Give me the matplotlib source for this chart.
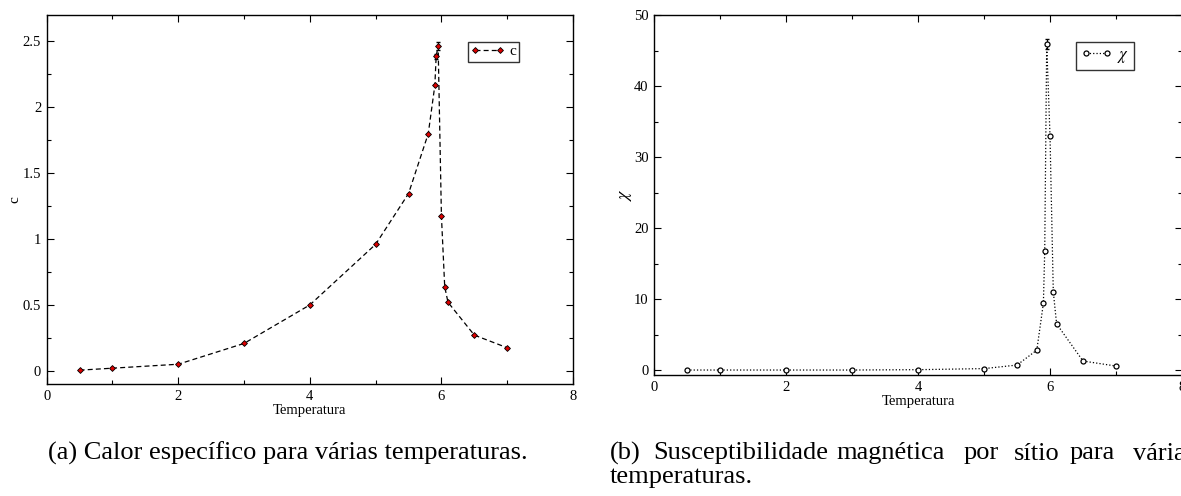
import matplotlib
matplotlib.use("Agg")
import matplotlib.pyplot as plt
from matplotlib.ticker import MultipleLocator

plt.rcParams['font.family'] = ['Liberation Serif', 'DejaVu Serif']
plt.rcParams['mathtext.fontset'] = 'stix'

# Data
temps = [0.5, 1.0, 2.0, 3.0, 4.0, 5.0, 5.5, 5.8, 5.9, 5.92, 5.95, 6.0, 6.05, 6.1, 6.5, 7.0]
c_vals = [0.005, 0.02, 0.05, 0.208, 0.50, 0.96, 1.345, 1.80, 2.166, 2.386, 2.467,
          1.175, 0.638, 0.52, 0.271, 0.175]
c_err = [0, 0, 0, 0, 0, 0, 0, 0, 0, 0.02, 0.03, 0, 0, 0, 0, 0]
chi_vals = [0.0, 0.0, 0.0, 0.0, 0.05, 0.2, 0.7, 2.8, 9.4, 16.8, 45.9,
            33.0, 11.0, 6.5, 1.27, 0.56]
chi_err = [0, 0, 0, 0, 0, 0, 0, 0, 0, 0, 0.7, 0, 0, 0, 0, 0]

xlabel = "Temperatura"
caption_a = "(a) Calor específico para várias temperaturas."
caption_b_words = ["(b)", "Susceptibilidade", "magnética", "por", "sítio", "para", "várias"]
caption_b_line2 = "temperaturas."

W, H = 1181, 496
fig = plt.figure(figsize=(W / 100, H / 100), dpi=100)

def style(ax):
    ax.tick_params(which='both', direction='in', top=True, right=True, labelsize=10.5, pad=4)
    ax.tick_params(which='major', length=5, width=0.8)
    ax.tick_params(which='minor', length=3, width=0.8)
    for s in ax.spines.values():
        s.set_linewidth(1.0)

# Left panel
ax1 = fig.add_axes([46.7 / W, 1 - 384 / H, (573 - 46.7) / W, (384 - 15) / H])
ax1.errorbar(temps, c_vals, yerr=c_err, fmt='none', ecolor='black', capsize=1.5, elinewidth=0.8)
ax1.plot(temps, c_vals, color='black', linestyle='--', linewidth=0.9, dashes=(4, 2.5),
         marker='D', markersize=3.0, markerfacecolor='#dd0000', markeredgecolor='black',
         markeredgewidth=0.6, label='c')
ax1.set_xlim(0, 8)
ax1.set_ylim(-0.1, 2.7)
ax1.xaxis.set_major_locator(MultipleLocator(2))
ax1.xaxis.set_minor_locator(MultipleLocator(1))
ax1.yaxis.set_minor_locator(MultipleLocator(0.25))
ax1.set_yticks([0, 0.5, 1, 1.5, 2, 2.5])
ax1.set_yticklabels(['0', '0.5', '1', '1.5', '2', '2.5'])
ax1.set_xlabel(xlabel, fontsize=10.5, labelpad=1)
ax1.set_ylabel('c', fontsize=11, labelpad=1)
style(ax1)
leg1 = ax1.legend(loc='upper left', bbox_to_anchor=(467.7 / W, 1 - 41.7 / H),
                  bbox_transform=fig.transFigure, numpoints=2, handlelength=2.2,
                  handletextpad=0.3, borderpad=0.2, fontsize=11, fancybox=False,
                  borderaxespad=0)
leg1.get_frame().set_edgecolor('black')
leg1.get_frame().set_linewidth(1.0)

# Right panel
ax2 = fig.add_axes([654 / W, 1 - 375 / H, (1182 - 654) / W, (375 - 15) / H])
ax2.errorbar(temps, chi_vals, yerr=chi_err, fmt='none', ecolor='black', capsize=1.5, elinewidth=0.8)
ax2.plot(temps, chi_vals, color='black', linestyle=':', linewidth=0.9,
         marker='o', markersize=3.6, markerfacecolor='white', markeredgecolor='black',
         markeredgewidth=0.9, label=r'$\chi$')
ax2.set_xlim(0, 8)
ax2.set_ylim(-0.7, 50)
ax2.xaxis.set_major_locator(MultipleLocator(2))
ax2.xaxis.set_minor_locator(MultipleLocator(1))
ax2.yaxis.set_major_locator(MultipleLocator(10))
ax2.yaxis.set_minor_locator(MultipleLocator(5))
ax2.set_xlabel(xlabel, fontsize=10.5, labelpad=1)
ax2.set_ylabel(r'$\chi$', fontsize=13, labelpad=0)
style(ax2)
leg2 = ax2.legend(loc='upper left', bbox_to_anchor=(1075.7 / W, 1 - 41.7 / H),
                  bbox_transform=fig.transFigure, numpoints=2, handlelength=1.9,
                  handletextpad=0.3, borderpad=0.3, fontsize=12, fancybox=False,
                  borderaxespad=0)
leg2.get_frame().set_edgecolor('black')
leg2.get_frame().set_linewidth(1.0)

# Captions
cap_fs = 19
fig.text(48 / W, 1 - 459.5 / H, caption_a, fontsize=cap_fs, ha='left', va='baseline')
word_x = [610, 653.3, 836.7, 963.3, 1014, 1070, 1133]
for wx, wd in zip(word_x, caption_b_words):
    fig.text(wx / W, 1 - 459.5 / H, wd, fontsize=cap_fs, ha='left', va='baseline')
fig.text(610 / W, 1 - 482.5 / H, caption_b_line2, fontsize=cap_fs, ha='left', va='baseline')

fig.savefig('out.png', dpi=100)
